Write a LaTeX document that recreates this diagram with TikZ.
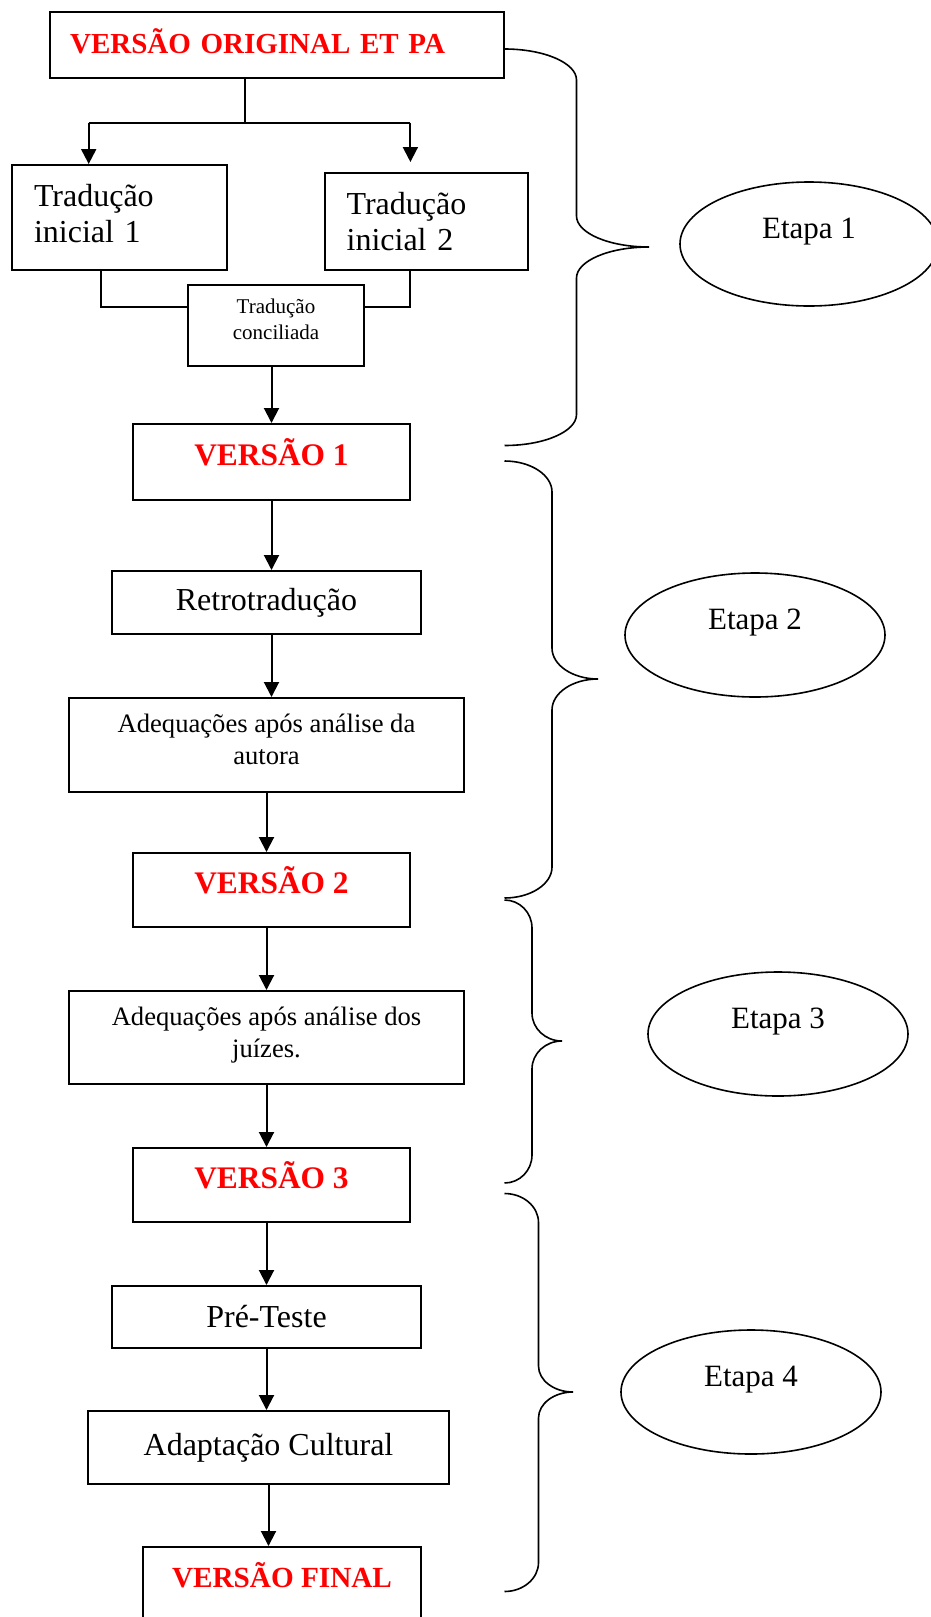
\documentclass[tikz,border=0pt]{standalone}
\usepackage{fontspec}
\setmainfont{Liberation Serif}
\usetikzlibrary{arrows.meta,shapes.geometric}

\tikzset{
    box/.style={draw,line width=1pt,inner sep=2pt,font=\fontsize{16}{18}\selectfont},
    versao/.style={box,text=red,font=\fontsize{15.7}{18}\selectfont\bfseries,text height=10pt,text depth=7pt,minimum width=138.5pt},
    etapa/.style={draw,ellipse,line width=0.8pt,inner sep=0pt,minimum width=129pt,minimum height=62pt,font=\fontsize{15.5}{18}\selectfont,text height=10pt,text depth=15.2pt},
    chave/.style={line width=0.8pt}
}

\begin{document}
\begin{tikzpicture}[x=0.5pt,y=-0.5pt,line width=1pt,>={Triangle[length=7.5pt,width=7.5pt]}]
        \useasboundingbox (0,0) rectangle (931,1617);
        \begin{scope}
            \node[versao, font=\fontsize{14.5}{18}\selectfont\bfseries, text depth=1.6pt, minimum width=227.3pt, minimum height=33pt, text width=206.7pt, inner xsep=10.3pt, align=left] (orig) at (276.8,45.4) {VERSÃO ORIGINAL ET PA};
            \node[box, text width=85.7pt, inner xsep=10.8pt, align=left, text depth=22pt, minimum height=52.5pt] (t1) at (119.7,217.5) {Tradução\\inicial 1};
            \node[box, text width=79.9pt, inner xsep=10.8pt, align=left, minimum height=48.5pt] (t2) at (426.5,221.5) {Tradução\\inicial 2};
            \node[box, font=\fontsize{10.5}{12.9}\selectfont, align=center, text depth=5.9pt, minimum width=88pt, minimum height=40.5pt] (conc) at (276,325.5) {Tradução\\conciliada};
            \node[versao, minimum height=38pt] (v1) at (271.5,462) {VERSÃO 1};
            \node[box, minimum width=154.5pt, minimum height=31.5pt] (retro) at (266.5,602.5) {Retrotradução};
            \node[box, font=\fontsize{13.3}{16}\selectfont, align=center, text depth=5.4pt, minimum width=197.5pt, minimum height=47pt] (adq1) at (266.5,745) {Adequações após análise da\\autora};
            \node[versao, minimum height=37pt] (v2) at (271.5,890) {VERSÃO 2};
            \node[box, font=\fontsize{13.3}{16}\selectfont, align=center, text depth=5.4pt, minimum width=197.5pt, minimum height=46.5pt] (adq2) at (266.5,1037.5) {Adequações após análise dos\\juízes.};
            \node[versao, minimum height=37pt] (v3) at (271.5,1185) {VERSÃO 3};
            \node[box, minimum width=154.5pt, minimum height=31pt] (pre) at (266.5,1317) {Pré-Teste};
            \node[box, minimum width=180.5pt, minimum height=36.5pt] (adapt) at (268.5,1447.5) {Adaptação Cultural};
            \node[versao, font=\fontsize{14.6}{18}\selectfont\bfseries, text depth=14.5pt, minimum width=138.7pt, minimum height=45pt] (vfin) at (282,1592) {VERSÃO FINAL};
        \end{scope}
        \begin{scope}
            \node[etapa] (e1) at (809,244) {Etapa 1};
            \node[etapa, minimum width=130pt] (e2) at (755,635) {Etapa 2};
            \node[etapa, minimum width=130pt] (e3) at (778,1034) {Etapa 3};
            \node[etapa, minimum width=130pt] (e4) at (751,1392) {Etapa 4};
        \end{scope}
        \coordinate (j0) at (245.4,122.7);
        \coordinate (j1) at (88.7,122.7);
        \coordinate (j2) at (410.4,122.7);
        \coordinate (k1) at (101,307);
        \coordinate (k2) at (410.4,307);
        \begin{scope}
            \draw (orig.south -| j0) -- (j0);
            \draw (j1) -- (j2);
            \path [->] (j1) edge (j1 |- t1.north);
            \path [->] (j2) edge ([yshift=5pt]j2 |- t2.north);
            \draw (k1 |- t1.south) |- (conc.west |- k1);
            \draw (k2 |- t2.south) |- (conc.east |- k2);
            \path [->] (conc.south -| v1.north) edge (v1.north);
            \path [->] (v1.south) edge (v1.south |- retro.north);
            \path [->] (retro.south -| v1.south) edge (adq1.north -| v1.south);
            \path [->] (adq1.south) edge (adq1.south |- v2.north);
            \path [->] (v2.south -| adq2.north) edge (adq2.north);
            \path [->] (adq2.south) edge (adq2.south |- v3.north);
            \path [->] (v3.south -| pre.north) edge (pre.north);
            \path [->] (pre.south) edge (pre.south |- adapt.north);
            \path [->] (adapt.south) edge (adapt.south |- vfin.north);
        \end{scope}
        \begin{scope}[chave]
            \draw (504.5,49) .. controls (544.2,49) and (576.5,62.9) .. (576.5,80) -- (576.5,216) .. controls (576.5,233.1) and (609,247) .. (649,247) .. controls (609,247) and (576.5,260.9) .. (576.5,278) -- (576.5,414.5) .. controls (576.5,431.6) and (544.2,445.5) .. (504.5,445.5);
            \draw (504.5,461) .. controls (530.7,461) and (552,474.9) .. (552,492) -- (552,648) .. controls (552,665.1) and (572.6,679) .. (598,679) .. controls (572.6,679) and (552,692.9) .. (552,710) -- (552,867) .. controls (552,884.1) and (530.7,898) .. (504.5,898);
            \draw (504.5,900) .. controls (519.7,900) and (532,912.5) .. (532,928) -- (532,1013) .. controls (532,1028.5) and (545.4,1041) .. (562,1041) .. controls (545.4,1041) and (532,1053.5) .. (532,1069) -- (532,1155) .. controls (532,1170.5) and (519.7,1183) .. (504.5,1183);
            \draw (504.5,1193.5) .. controls (523.3,1193.5) and (538.5,1206.5) .. (538.5,1222.5) -- (538.5,1366) .. controls (538.5,1380.4) and (554,1392) .. (573,1392) .. controls (554,1392) and (538.5,1403.6) .. (538.5,1418) -- (538.5,1562.5) .. controls (538.5,1578.5) and (523.3,1591.5) .. (504.5,1591.5);
        \end{scope}
\end{tikzpicture}
\end{document}
